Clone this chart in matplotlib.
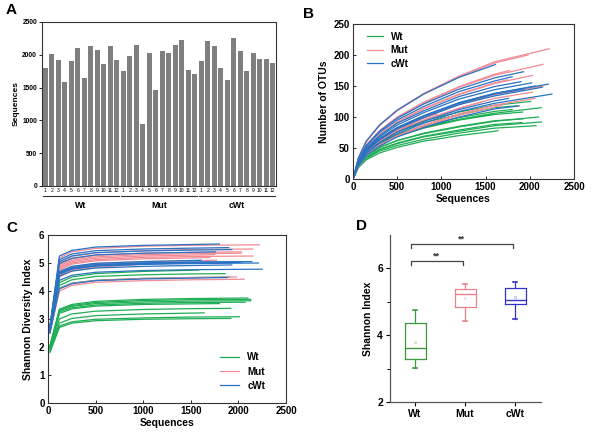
import matplotlib
matplotlib.use("Agg")
import matplotlib.pyplot as plt
import matplotlib.transforms as mtransforms
from matplotlib.lines import Line2D

plt.rcParams['font.family'] = ['Liberation Sans', 'DejaVu Sans']

# ---------------- data ----------------
groups = ["Wt", "Mut", "cWt"]
sample_ids = ["1", "2", "3", "4", "5", "6", "7", "8", "9", "10", "11", "12"]

depth_wt = [1800, 2010, 1920, 1580, 1910, 2100, 1640, 2130, 2070, 1860, 2130, 1920]
depth_mut = [1750, 1980, 2150, 950, 2030, 1470, 2060, 2030, 2150, 2220, 1770, 1700]
depth_cwt = [1900, 2210, 2140, 1800, 1610, 2250, 2060, 1760, 2020, 1930, 1930, 1880]

# OTU rarefaction (panel B): values at checkpoints, last value at the sample depth
otu_x = [0, 60, 150, 300, 500, 800, 1200, 1600]
otu_wt = [
    [0, 25, 44, 60, 72, 86, 99, 109, 112],
    [0, 27, 47, 65, 79, 94, 108, 119, 125],
    [0, 22, 38, 51, 62, 74, 85, 94, 97],
    [0, 24, 42, 58, 70, 83, 96, 105],
    [0, 20, 35, 48, 58, 69, 79, 88, 91],
    [0, 22, 37, 51, 62, 73, 84, 93, 100],
    [0, 18, 31, 42, 51, 61, 70, 77, 78],
    [0, 25, 43, 58, 71, 84, 96, 106, 115],
    [0, 19, 33, 45, 54, 64, 74, 82, 86],
    [0, 27, 46, 63, 76, 91, 104, 115, 118],
    [0, 20, 34, 47, 57, 68, 77, 86, 92],
    [0, 24, 42, 57, 69, 82, 95, 104, 108],
]
otu_mut = [
    [0, 27, 50, 72, 92, 114, 137, 155, 160],
    [0, 32, 60, 86, 110, 137, 165, 187, 200],
    [0, 23, 44, 63, 80, 99, 120, 136, 150],
    [0, 23, 43, 62, 79, 98, 105],
    [0, 27, 50, 71, 91, 113, 136, 154, 167],
    [0, 22, 42, 60, 76, 95, 114, 125],
    [0, 20, 38, 55, 70, 87, 105, 119, 130],
    [0, 22, 42, 60, 77, 95, 114, 130, 140],
    [0, 29, 54, 77, 99, 122, 148, 167, 185],
    [0, 33, 61, 87, 111, 138, 166, 189, 210],
    [0, 29, 55, 78, 100, 124, 149, 169, 175],
    [0, 20, 38, 54, 69, 85, 103, 116, 120],
]
otu_cwt = [
    [0, 27, 50, 70, 90, 110, 133, 149, 157],
    [0, 25, 46, 65, 83, 102, 123, 138, 153],
    [0, 24, 45, 63, 81, 99, 120, 134, 148],
    [0, 29, 53, 75, 95, 117, 141, 158, 165],
    [0, 34, 61, 87, 111, 137, 164, 184, 185],
    [0, 22, 41, 58, 73, 90, 109, 122, 137],
    [0, 25, 46, 65, 83, 102, 123, 138, 150],
    [0, 23, 42, 59, 76, 93, 112, 126, 130],
    [0, 26, 48, 68, 87, 107, 129, 144, 155],
    [0, 30, 54, 77, 98, 121, 145, 163, 173],
    [0, 25, 46, 65, 82, 101, 122, 137, 145],
    [0, 21, 38, 53, 68, 83, 100, 113, 118],
]

# Shannon rarefaction (panel C)
sh_x = [20, 120, 250, 500, 1000, 1500]
sh_wt = [
    [1.95, 3.20, 3.36, 3.46, 3.52, 3.54, 3.55],
    [1.85, 2.75, 2.90, 2.99, 3.04, 3.07, 3.08],
    [1.90, 3.00, 3.18, 3.28, 3.34, 3.37, 3.38],
    [2.60, 4.30, 4.50, 4.62, 4.70, 4.74, 4.75],
    [2.50, 4.10, 4.28, 4.38, 4.45, 4.48, 4.50],
    [2.05, 3.35, 3.52, 3.63, 3.70, 3.73, 3.75],
    [1.90, 2.85, 3.02, 3.12, 3.18, 3.21, 3.22],
    [2.00, 3.32, 3.48, 3.59, 3.66, 3.69, 3.70],
    [2.00, 3.25, 3.40, 3.50, 3.56, 3.59, 3.60],
    [2.55, 4.20, 4.40, 4.52, 4.58, 4.61, 4.62],
    [2.00, 3.30, 3.45, 3.55, 3.61, 3.64, 3.65],
    [1.80, 2.70, 2.85, 2.94, 2.99, 3.01, 3.02],
]
sh_mut = [
    [2.65, 4.85, 5.05, 5.17, 5.25, 5.28, 5.30],
    [2.55, 4.08, 4.27, 4.38, 4.45, 4.48, 4.50],
    [2.70, 5.02, 5.24, 5.36, 5.44, 5.48, 5.50],
    [2.60, 4.50, 4.72, 4.84, 4.95],
    [2.70, 4.95, 5.15, 5.27, 5.35, 5.38, 5.40],
    [2.60, 4.55, 4.76, 4.88, 4.96, 5.00],
    [2.50, 4.00, 4.20, 4.31, 4.37, 4.40, 4.42],
    [2.65, 4.90, 5.10, 5.22, 5.30, 5.33, 5.35],
    [2.65, 4.80, 5.00, 5.12, 5.20, 5.23, 5.25],
    [2.70, 5.18, 5.40, 5.52, 5.60, 5.63, 5.65],
    [2.60, 4.65, 4.86, 4.98, 5.05, 5.08, 5.10],
    [2.60, 4.75, 4.96, 5.08, 5.15, 5.18, 5.20],
]
sh_cwt = [
    [2.70, 5.12, 5.32, 5.44, 5.50, 5.53, 5.55],
    [2.60, 4.60, 4.78, 4.89, 4.95, 4.98, 5.00],
    [2.60, 4.65, 4.83, 4.94, 5.00, 5.03, 5.05],
    [2.75, 5.25, 5.45, 5.57, 5.63, 5.66, 5.68],
    [2.60, 4.70, 4.88, 4.99, 5.05, 5.09, 5.10],
    [2.55, 4.38, 4.56, 4.67, 4.73, 4.76, 4.78],
    [2.60, 4.65, 4.83, 4.94, 5.00, 5.03, 5.05],
    [2.70, 4.98, 5.17, 5.29, 5.35, 5.38, 5.40],
    [2.60, 4.62, 4.80, 4.91, 4.97, 5.00, 5.02],
    [2.70, 5.05, 5.25, 5.37, 5.43, 5.46, 5.48],
    [2.60, 4.53, 4.71, 4.82, 4.88, 4.91, 4.93],
    [2.50, 4.08, 4.26, 4.37, 4.43, 4.46, 4.48],
]

# Box plot stats (panel D)
box_whislo = [3.02, 4.42, 4.48]
box_q1 = [3.30, 4.85, 4.93]
box_med = [3.62, 5.22, 5.05]
box_q3 = [4.38, 5.38, 5.42]
box_whishi = [4.75, 5.52, 5.60]
box_mean = [3.80, 5.12, 5.15]
sig_pairs = [(0, 1, 6.22, "**"), (0, 2, 6.72, "**")]

# ---------------- styles ----------------
curve_colors = ["#1fae55", "#f28b96", "#2a72c2"]
box_colors = ["#3f973f", "#e9808c", "#3434c8"]
bar_color = "#7f7f7f"

fig = plt.figure(figsize=(6.02, 4.44), dpi=100)
W, H = 602, 444


def ax_px(l, t, r, b):
    return fig.add_axes([l / W, 1 - b / H, (r - l) / W, (b - t) / H])


# ---------------- Panel A ----------------
axA = ax_px(42, 22, 276, 186)
depths = depth_wt + depth_mut + depth_cwt
xpos = list(range(len(depths)))
axA.bar(xpos, depths, width=0.84, color=bar_color, edgecolor="none")
axA.set_xlim(-0.5, len(depths) - 0.5)
axA.set_ylim(0, 2500)
axA.set_yticks([0, 500, 1000, 1500, 2000, 2500])
axA.tick_params(axis="y", labelsize=4.8, length=2, width=0.6, pad=1.5)
for lab in axA.get_yticklabels():
    lab.set_fontweight("bold")
axA.set_xticks(xpos)
axA.set_xticklabels(sample_ids * 3, fontsize=3.6)
axA.tick_params(axis="x", length=0, pad=1.5)
axA.set_ylabel("Sequences", fontsize=6, fontweight="bold", labelpad=2)
for s in axA.spines.values():
    s.set_linewidth(0.8)
    s.set_color("#333333")
trA = mtransforms.blended_transform_factory(axA.transData, axA.transAxes)
for gi, g in enumerate(groups):
    x0 = gi * 12 - 0.4
    x1 = gi * 12 + 11.4
    axA.add_line(Line2D([x0, x1], [-0.062, -0.062], transform=trA, color="#333333",
                        linewidth=0.8, clip_on=False))
    axA.text(gi * 12 + 5.5, -0.09, g, transform=trA, ha="center", va="top",
             fontsize=6.3, fontweight="bold")

# ---------------- Panel B ----------------
axB = ax_px(353, 24, 574, 179)
for grp, depth, col, name in [(otu_wt, depth_wt, curve_colors[0], "Wt"),
                              (otu_mut, depth_mut, curve_colors[1], "Mut"),
                              (otu_cwt, depth_cwt, curve_colors[2], "cWt")]:
    for i, (vals, d) in enumerate(zip(grp, depth)):
        xs = otu_x[:len(vals) - 1] + [d]
        axB.plot(xs, vals, color=col, linewidth=0.9, label=name if i == 0 else None)
axB.set_xlim(0, 2500)
axB.set_ylim(0, 250)
axB.set_xticks([0, 500, 1000, 1500, 2000, 2500])
axB.set_yticks([0, 50, 100, 150, 200, 250])
axB.tick_params(direction="in", length=2, width=0.6, labelsize=7, pad=2.5)
for lab in axB.get_xticklabels() + axB.get_yticklabels():
    lab.set_fontweight("bold")
axB.set_xlabel("Sequences", fontsize=7.5, fontweight="bold", labelpad=1)
axB.set_ylabel("Number of OTUs", fontsize=7.5, fontweight="bold", labelpad=3)
for s in axB.spines.values():
    s.set_linewidth(0.8)
    s.set_color("#333333")
legB = axB.legend(loc="upper left", frameon=False, fontsize=7, handlelength=1.6,
                  handletextpad=0.8, labelspacing=0.35, borderaxespad=0.4,
                  bbox_to_anchor=(0.03, 1.0))
for t in legB.get_texts():
    t.set_fontweight("bold")

# ---------------- Panel C ----------------
axC = ax_px(48, 235, 286, 403)
for grp, depth, col, name in [(sh_wt, depth_wt, curve_colors[0], "Wt"),
                              (sh_mut, depth_mut, curve_colors[1], "Mut"),
                              (sh_cwt, depth_cwt, curve_colors[2], "cWt")]:
    for i, (vals, d) in enumerate(zip(grp, depth)):
        xs = sh_x[:len(vals) - 1] + [d]
        axC.plot(xs, vals, color=col, linewidth=0.9, label=name if i == 0 else None)
axC.set_xlim(0, 2500)
axC.set_ylim(0, 6)
axC.set_xticks([0, 500, 1000, 1500, 2000, 2500])
axC.set_yticks([0, 1, 2, 3, 4, 5, 6])
axC.tick_params(direction="in", length=2, width=0.6, labelsize=7, pad=2.5)
for lab in axC.get_xticklabels() + axC.get_yticklabels():
    lab.set_fontweight("bold")
axC.set_xlabel("Sequences", fontsize=7.5, fontweight="bold", labelpad=1)
axC.set_ylabel("Shannon Diversity Index", fontsize=7.5, fontweight="bold", labelpad=4)
for s in axC.spines.values():
    s.set_linewidth(0.8)
    s.set_color("#333333")
legC = axC.legend(loc="lower right", frameon=False, fontsize=7, handlelength=1.9,
                  handletextpad=0.9, labelspacing=0.45, borderaxespad=0.5,
                  bbox_to_anchor=(0.95, 0.02))
for t in legC.get_texts():
    t.set_fontweight("bold")

# ---------------- Panel D ----------------
axD = ax_px(390, 235, 541, 402)
stats = []
for i, g in enumerate(groups):
    stats.append(dict(label=g, whislo=box_whislo[i], q1=box_q1[i], med=box_med[i],
                      q3=box_q3[i], whishi=box_whishi[i], mean=box_mean[i], fliers=[]))
for i, st in enumerate(stats):
    c = box_colors[i]
    axD.bxp([st], positions=[i + 1], widths=0.42, showmeans=True, showfliers=False,
            boxprops=dict(color=c, linewidth=0.9),
            medianprops=dict(color=c, linewidth=1.0),
            whiskerprops=dict(color=c, linewidth=0.9),
            capprops=dict(color=c, linewidth=1.2),
            meanprops=dict(marker="s", markersize=2, markerfacecolor="none",
                           markeredgecolor=c, alpha=0.5, markeredgewidth=0.4),
            capwidths=0.08, manage_ticks=False)
axD.set_xlim(0.5, 3.52)
axD.set_ylim(2, 7)
axD.set_xticks([1, 2, 3])
axD.set_xticklabels(groups)
axD.set_yticks([2, 4, 6])
axD.set_yticks([3, 5], minor=True)
axD.tick_params(axis="both", which="major", length=3, width=0.8, labelsize=7.5, pad=2)
axD.tick_params(axis="y", which="minor", length=2, width=0.7)
for lab in axD.get_xticklabels() + axD.get_yticklabels():
    lab.set_fontweight("bold")
axD.set_ylabel("Shannon Index", fontsize=7.5, fontweight="bold", labelpad=3)
axD.spines["top"].set_visible(False)
axD.spines["right"].set_visible(False)
for s in ["left", "bottom"]:
    axD.spines[s].set_linewidth(0.9)
    axD.spines[s].set_color("#555555")
for a, b, y, txt in sig_pairs:
    xa, xb = a + 1 - 0.08, b + 1 - 0.05
    axD.plot([xa, xa, xb, xb], [y - 0.12, y, y, y - 0.12], color="#444444",
             linewidth=0.9, clip_on=False)
    axD.text((xa + xb) / 2, y + 0.03, txt, ha="center", va="bottom", fontsize=6.5,
             fontweight="bold", color="#333333")

# ---------------- panel letters ----------------
for txt, x, y in [("A", 6, 10), ("B", 303, 14), ("C", 6, 228), ("D", 356, 226)]:
    fig.text(x / W, 1 - y / H, txt, fontsize=11, fontweight="bold", ha="left", va="center")

fig.savefig("out.png", dpi=100)
